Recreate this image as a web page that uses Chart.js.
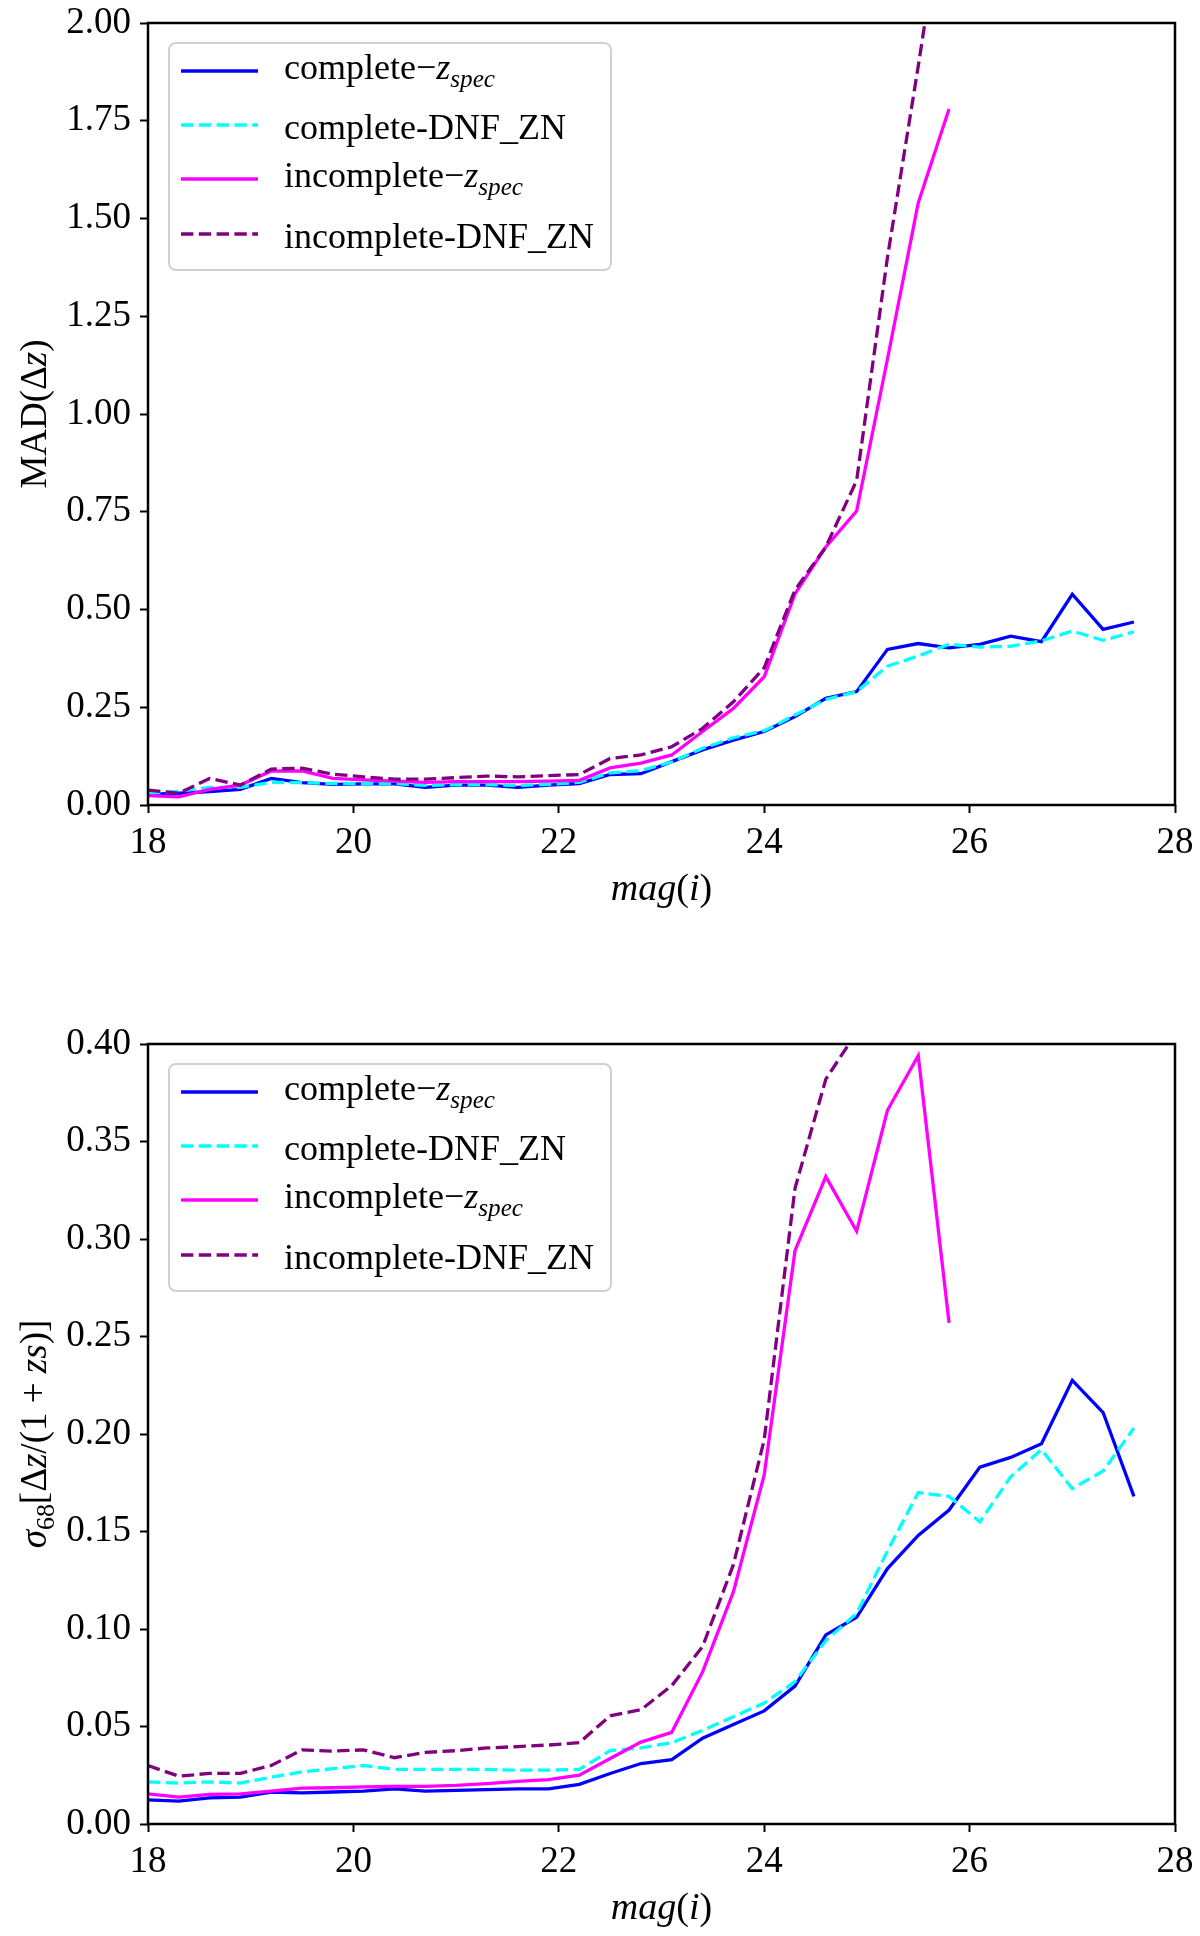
<!DOCTYPE html>
<html lang="en">
<head>
<meta charset="UTF-8">
<title>MAD and sigma68 against mag(i)</title>
<script src="https://cdn.jsdelivr.net/npm/chart.js"></script>
<style>
  body { margin: 0; background: #fff; }
  #wrap { position: relative; width: 1200px; height: 1936px; }
  canvas { position: absolute; left: 0; }
</style>
</head>
<body>
<div id="wrap">
  <canvas id="madChart" width="1200" height="968" style="top:0"></canvas>
  <canvas id="sigChart" width="1200" height="968" style="top:968px"></canvas>
</div>
<script>
// magnitude bins (x)
const mags = [18.0, 18.3, 18.6, 18.9, 19.2, 19.5, 19.8, 20.1, 20.4, 20.7, 21.0,
  21.3, 21.6, 21.9, 22.2, 22.5, 22.8, 23.1, 23.4, 23.7, 24.0, 24.3, 24.6, 24.9,
  25.2, 25.5, 25.8, 26.1, 26.4, 26.7, 27.0, 27.3, 27.6];

// top panel: MAD(dz)
const madComplete = [0.027, 0.030, 0.034, 0.040, 0.068, 0.057, 0.053, 0.054, 0.054,
  0.045, 0.051, 0.051, 0.045, 0.051, 0.055, 0.078, 0.080, 0.111, 0.141, 0.166, 0.188,
  0.226, 0.273, 0.290, 0.398, 0.413, 0.402, 0.411, 0.432, 0.418, 0.539, 0.449, 0.468];
const madCompleteDnf = [0.030, 0.035, 0.045, 0.045, 0.058, 0.057, 0.055, 0.055, 0.055,
  0.050, 0.052, 0.052, 0.050, 0.053, 0.058, 0.082, 0.088, 0.110, 0.145, 0.172, 0.190,
  0.230, 0.270, 0.290, 0.355, 0.381, 0.411, 0.404, 0.406, 0.420, 0.445, 0.421, 0.443];
const madIncomplete = [0.024, 0.021, 0.040, 0.051, 0.087, 0.087, 0.068, 0.064, 0.061,
  0.058, 0.060, 0.060, 0.060, 0.061, 0.063, 0.095, 0.107, 0.128, 0.188, 0.247, 0.328,
  0.540, 0.660, 0.752, 1.140, 1.540, 1.780];
const madIncompleteDnf = [0.038, 0.030, 0.068, 0.051, 0.092, 0.094, 0.079, 0.072, 0.066,
  0.066, 0.070, 0.074, 0.072, 0.075, 0.078, 0.119, 0.128, 0.149, 0.196, 0.264, 0.351,
  0.550, 0.660, 0.830, 1.400, 1.890, 2.400];

// bottom panel: sigma68[dz/(1+zs)]
const sigComplete = [0.0124, 0.0117, 0.0134, 0.0138, 0.0164, 0.0160, 0.0164, 0.0169,
  0.0180, 0.0169, 0.0172, 0.0176, 0.0180, 0.0180, 0.0203, 0.0259, 0.0310, 0.0330,
  0.0440, 0.0510, 0.0580, 0.0707, 0.0970, 0.1060, 0.1310, 0.1480, 0.1610, 0.1830,
  0.1880, 0.1950, 0.2275, 0.2110, 0.1680];
const sigCompleteDnf = [0.0216, 0.0210, 0.0216, 0.0210, 0.0240, 0.0267, 0.0284, 0.0300,
  0.0280, 0.0280, 0.0280, 0.0280, 0.0276, 0.0276, 0.0280, 0.0376, 0.0390, 0.0417,
  0.0480, 0.0550, 0.0620, 0.0730, 0.0940, 0.1080, 0.1400, 0.1700, 0.1680, 0.1550,
  0.1780, 0.1920, 0.1720, 0.1810, 0.2030];
const sigIncomplete = [0.0155, 0.0138, 0.0152, 0.0155, 0.0169, 0.0184, 0.0186, 0.0190,
  0.0193, 0.0193, 0.0198, 0.0207, 0.0219, 0.0228, 0.0250, 0.0336, 0.0420, 0.0470,
  0.0780, 0.1190, 0.1790, 0.2940, 0.3320, 0.3040, 0.3660, 0.3940, 0.2570];
const sigIncompleteDnf = [0.0300, 0.0245, 0.0260, 0.0260, 0.0300, 0.0380, 0.0374, 0.0380,
  0.0340, 0.0367, 0.0376, 0.0390, 0.0397, 0.0405, 0.0417, 0.0555, 0.0586, 0.0710,
  0.0910, 0.1330, 0.1970, 0.3260, 0.3820, 0.4060, 0.5200, 0.6300, 0.7500];

const xTicks = [18, 20, 22, 24, 26, 28];

const SERIF = '"Liberation Serif", "Times New Roman", serif';
const DASH = [12.4, 5.4];

// legend entries, in matplotlib plotting order
const seriesStyle = [
  { color: '#0000ff', dash: [], label: [{ t: 'complete\u2212' }, { t: 'z', i: 1 }, { t: 'spec', i: 1, s: 1 }] },
  { color: '#00ffff', dash: DASH, label: [{ t: 'complete-DNF_ZN' }] },
  { color: '#ff00ff', dash: [], label: [{ t: 'incomplete\u2212' }, { t: 'z', i: 1 }, { t: 'spec', i: 1, s: 1 }] },
  { color: '#800080', dash: DASH, label: [{ t: 'incomplete-DNF_ZN' }] }
];

function fontFor(p, size) {
  const sz = p.s ? size * 0.7 : size;
  return (p.i ? 'italic ' : '') + sz + 'px ' + SERIF;
}

// draw a run of mixed upright / italic / subscript text
function drawRich(ctx, parts, x, y, size, align) {
  let w = 0;
  parts.forEach(p => { ctx.font = fontFor(p, size); w += ctx.measureText(p.t).width; });
  let cx = align === 'center' ? x - w / 2 : x;
  ctx.textAlign = 'left';
  ctx.textBaseline = 'alphabetic';
  parts.forEach(p => {
    ctx.font = fontFor(p, size);
    ctx.fillText(p.t, cx, y + (p.s ? size * 0.22 : 0));
    cx += ctx.measureText(p.t).width;
  });
}

const decorPlugin = {
  id: 'decor',
  afterDraw(chart) {
    const o = chart.options.plugins.decor;
    const a = chart.chartArea;
    const ctx = chart.ctx;
    ctx.save();

    // axes frame
    ctx.strokeStyle = '#000';
    ctx.lineWidth = 2.5;
    ctx.strokeRect(a.left, a.top, a.right - a.left, a.bottom - a.top);

    // legend box
    const bx = 169, by = a.top + 20, bw = 442, bh = 227, r = 7;
    ctx.beginPath();
    ctx.moveTo(bx + r, by);
    ctx.arcTo(bx + bw, by, bx + bw, by + bh, r);
    ctx.arcTo(bx + bw, by + bh, bx, by + bh, r);
    ctx.arcTo(bx, by + bh, bx, by, r);
    ctx.arcTo(bx, by, bx + bw, by, r);
    ctx.closePath();
    ctx.fillStyle = 'rgba(255,255,255,0.8)';
    ctx.fill();
    ctx.strokeStyle = '#d0d0d0';
    ctx.lineWidth = 2;
    ctx.stroke();

    const rowY = [48, 102, 156, 211];
    ctx.fillStyle = '#000';
    seriesStyle.forEach((s, k) => {
      const ly = a.top + rowY[k];
      ctx.strokeStyle = s.color;
      ctx.lineWidth = 3.3;
      ctx.setLineDash(s.dash);
      ctx.beginPath();
      ctx.moveTo(181, ly);
      ctx.lineTo(258, ly);
      ctx.stroke();
      ctx.setLineDash([]);
      const hasSub = s.label.some(p => p.s);
      drawRich(ctx, s.label, 284, ly + (hasSub ? 8 : 14), 36, 'left');
    });

    // x title
    ctx.fillStyle = '#000';
    drawRich(ctx, o.xTitle, (a.left + a.right) / 2, o.xTitleY + 13, 38, 'center');

    // y title, rotated
    ctx.translate(34, (a.top + a.bottom) / 2);
    ctx.rotate(-Math.PI / 2);
    drawRich(ctx, o.yTitle, 0, 12, 37, 'center');

    ctx.restore();
  }
};

function toPoints(vals) {
  return vals.map((v, k) => ({ x: mags[k], y: v }));
}

function makeChart(id, series, yMax, yStep, padTop, xHeight, yTitle, xTitleY) {
  const datasets = series.map((vals, k) => ({
    data: toPoints(vals),
    borderColor: seriesStyle[k].color,
    borderDash: seriesStyle[k].dash,
    borderWidth: 3.3,
    pointRadius: 0,
    tension: 0,
    fill: false,
    clip: 0,
    order: 3 - k
  }));

  return new Chart(document.getElementById(id), {
    type: 'line',
    data: { datasets },
    options: {
      responsive: false,
      animation: false,
      events: [],
      layout: { padding: { top: padTop, right: 25, left: 0, bottom: 0 } },
      plugins: {
        legend: { display: false },
        tooltip: { enabled: false },
        decor: {
          yTitle: yTitle,
          xTitle: [{ t: 'mag', i: 1 }, { t: '(' }, { t: 'i', i: 1 }, { t: ')' }],
          xTitleY: xTitleY
        }
      },
      scales: {
        x: {
          type: 'linear',
          min: 18,
          max: 28,
          afterFit: s => {
            s.height = xHeight;
            s.paddingLeft = 0;
            s.paddingRight = 0;
          },
          afterBuildTicks: s => { s.ticks = xTicks.map(v => ({ value: v })); },
          ticks: {
            color: '#000',
            padding: 8,
            maxRotation: 0,
            font: { family: SERIF, size: 37 },
            callback: v => String(v)
          },
          grid: { drawOnChartArea: false, drawTicks: true, tickLength: 8, tickWidth: 2, tickColor: '#000' },
          border: { display: false }
        },
        y: {
          min: 0,
          max: yMax,
          afterFit: s => {
            s.width = 148;
            s.paddingTop = 0;
            s.paddingBottom = 0;
          },
          ticks: {
            stepSize: yStep,
            color: '#000',
            padding: 9,
            font: { family: SERIF, size: 37 },
            callback: v => v.toFixed(2)
          },
          grid: { drawOnChartArea: false, drawTicks: true, tickLength: 8, tickWidth: 2, tickColor: '#000' },
          border: { display: false }
        }
      }
    },
    plugins: [decorPlugin]
  });
}

makeChart('madChart',
  [madComplete, madCompleteDnf, madIncomplete, madIncompleteDnf],
  2.0, 0.25, 23, 163,
  [{ t: 'MAD(\u0394' }, { t: 'z', i: 1 }, { t: ')' }],
  887);

makeChart('sigChart',
  [sigComplete, sigCompleteDnf, sigIncomplete, sigIncompleteDnf],
  0.4, 0.05, 76, 112,
  [{ t: '\u03c3', i: 1 }, { t: '68', s: 1 }, { t: '[\u0394' }, { t: 'z', i: 1 },
   { t: '/(1 + ' }, { t: 'zs', i: 1 }, { t: ')]' }],
  938);
</script>
</body>
</html>
